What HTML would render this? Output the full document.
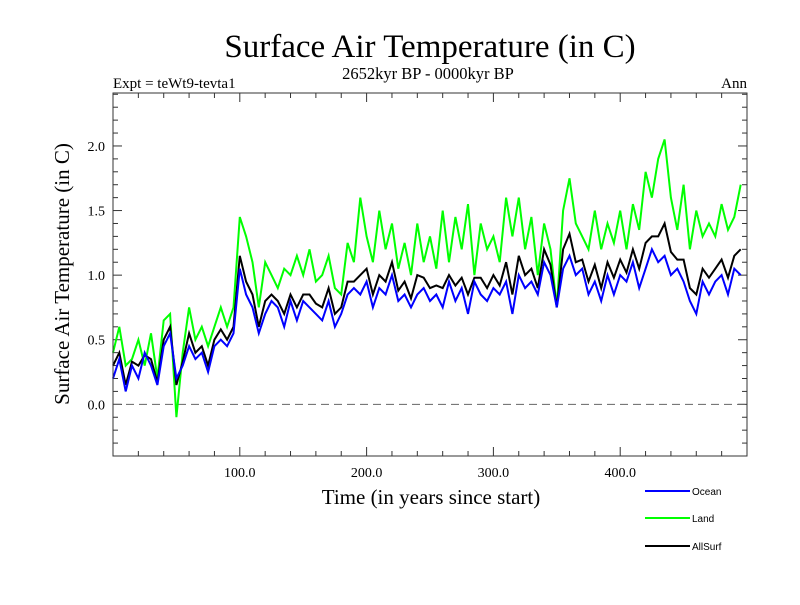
<!DOCTYPE html>
<html><head><meta charset="utf-8"><style>
body{margin:0;background:#fff;}
svg text{font-family:"Liberation Serif",serif;}
</style></head><body>
<svg id="c" width="800" height="600" xmlns="http://www.w3.org/2000/svg">
<text x="430" y="57" font-size="33" text-anchor="middle">Surface Air Temperature (in C)</text>
<text x="428" y="79" font-size="16.5" text-anchor="middle">2652kyr BP - 0000kyr BP</text>
<text x="113" y="88" font-size="15">Expt = teWt9-tevta1</text>
<text x="747" y="88" font-size="15" text-anchor="end">Ann</text>
<text transform="translate(69,274) rotate(-90)" font-size="21" text-anchor="middle">Surface Air Temperature (in C)</text>
<text x="431" y="504" font-size="21" text-anchor="middle">Time (in years since start)</text>
<g id="ticks"></g><g id="series"></g>
<rect x="113" y="93" width="634" height="363" fill="none" stroke="#333" stroke-width="1"/>
<g font-size="10">
<line x1="645" y1="491" x2="690" y2="491" stroke="#0000ff" stroke-width="2"/>
<text x="692" y="495" style="font-family:'Liberation Sans',sans-serif" font-size="10">Ocean</text>
<line x1="645" y1="518" x2="690" y2="518" stroke="#00ff00" stroke-width="2"/>
<text x="692" y="522" style="font-family:'Liberation Sans',sans-serif" font-size="10">Land</text>
<line x1="645" y1="546" x2="690" y2="546" stroke="#000" stroke-width="2"/>
<text x="692" y="550" style="font-family:'Liberation Sans',sans-serif" font-size="10">AllSurf</text>
</g>
</svg>
<script>
const years=[0,5,10,15,20,25,30,35,40,45,50,55,60,65,70,75,80,85,90,95,100,105,110,115,120,125,130,135,140,145,150,155,160,165,170,175,180,185,190,195,200,205,210,215,220,225,230,235,240,245,250,255,260,265,270,275,280,285,290,295,300,305,310,315,320,325,330,335,340,345,350,355,360,365,370,375,380,385,390,395,400,405,410,415,420,425,430,435,440,445,450,455,460,465,470,475,480,485,490,495];
const ocean=[0.2,0.35,0.1,0.3,0.2,0.4,0.3,0.15,0.45,0.55,0.2,0.3,0.45,0.35,0.4,0.25,0.45,0.5,0.45,0.55,1.05,0.85,0.75,0.55,0.7,0.8,0.75,0.6,0.8,0.65,0.8,0.75,0.7,0.65,0.8,0.6,0.7,0.85,0.9,0.85,0.95,0.75,0.9,0.85,1.0,0.8,0.85,0.75,0.85,0.9,0.8,0.85,0.75,0.95,0.8,0.9,0.7,0.95,0.85,0.8,0.9,0.85,0.95,0.7,1.0,0.9,0.95,0.85,1.1,1.0,0.75,1.05,1.15,1.0,1.05,0.85,0.95,0.8,1.0,0.85,1.0,0.95,1.1,0.9,1.05,1.2,1.1,1.15,1.0,1.05,0.95,0.8,0.7,0.95,0.85,0.95,1.0,0.85,1.05,1.0];
const land=[0.4,0.6,0.3,0.35,0.5,0.3,0.55,0.2,0.65,0.7,-0.1,0.4,0.75,0.5,0.6,0.45,0.6,0.75,0.6,0.75,1.45,1.3,1.1,0.75,1.1,1.0,0.9,1.05,1.0,1.15,1.0,1.2,0.95,1.0,1.15,0.9,0.85,1.25,1.1,1.6,1.3,1.1,1.5,1.2,1.4,1.05,1.25,1.0,1.4,1.1,1.3,1.05,1.5,1.1,1.45,1.2,1.55,1.0,1.4,1.2,1.3,1.1,1.6,1.3,1.6,1.2,1.45,1.0,1.4,1.2,0.75,1.5,1.75,1.4,1.3,1.2,1.5,1.2,1.4,1.25,1.5,1.2,1.55,1.35,1.8,1.6,1.9,2.05,1.6,1.35,1.7,1.2,1.5,1.3,1.4,1.3,1.55,1.35,1.45,1.7];
const allsurf=[0.3,0.4,0.15,0.33,0.3,0.38,0.35,0.17,0.5,0.6,0.15,0.33,0.55,0.4,0.45,0.3,0.5,0.58,0.5,0.6,1.15,0.95,0.85,0.6,0.8,0.85,0.8,0.7,0.85,0.75,0.85,0.85,0.78,0.75,0.9,0.7,0.75,0.95,0.95,1.0,1.05,0.85,1.0,0.95,1.1,0.88,0.95,0.82,1.0,0.98,0.9,0.92,0.9,1.0,0.92,0.98,0.85,0.98,0.98,0.9,1.0,0.92,1.1,0.85,1.15,1.0,1.05,0.9,1.2,1.08,0.75,1.2,1.32,1.1,1.12,0.95,1.08,0.9,1.1,0.98,1.12,1.02,1.2,1.05,1.25,1.3,1.3,1.4,1.18,1.12,1.12,0.9,0.85,1.05,0.98,1.05,1.12,0.98,1.15,1.2];
const xTickLabels=["100.0","200.0","300.0","400.0"];
const yTickLabels=["0.0","0.5","1.0","1.5","2.0"];
const X0=113,X1=747,Y0=93,Y1=456,XMIN=0,XMAX=500,YMIN=-0.4,YMAX=2.41;
const xs=v=>X0+(v-XMIN)/(XMAX-XMIN)*(X1-X0);
const ys=v=>Y1-(v-YMIN)/(YMAX-YMIN)*(Y1-Y0);
const NS="http://www.w3.org/2000/svg";
const tg=document.getElementById('ticks'),sg=document.getElementById('series');
function mk(tag,at,parent){const e=document.createElementNS(NS,tag);for(const k in at)e.setAttribute(k,at[k]);parent.appendChild(e);return e;}
for(let v=20;v<500;v+=20){const x=xs(v);const major=v%100===0;const L=major?9:5;
 let t=mk('line',{x1:x,y1:Y1,x2:x,y2:Y1-L,stroke:'#333'},tg);
 
 
 let t2=mk('line',{x1:x,y1:Y0,x2:x,y2:Y0+L,stroke:'#333'},tg);
 
 }
xTickLabels.forEach(s=>{const v=parseFloat(s);const e=mk('text',{x:xs(v),y:477,'font-size':14,'text-anchor':'middle'},tg);e.textContent=s;
 
 });
for(let i=-3;i<=24;i++){const v=i/10;const y=ys(v);const major=i%5===0;const L=major?9:5;
 let t=mk('line',{x1:X0,y1:y,x2:X0+L,y2:y,stroke:'#333'},tg);
 
 
 let t2=mk('line',{x1:X1,y1:y,x2:X1-L,y2:y,stroke:'#333'},tg);
 
 }
yTickLabels.forEach(s=>{const v=parseFloat(s);const e=mk('text',{x:X0-8,y:ys(v)+5,'font-size':14,'text-anchor':'end'},tg);e.textContent=s;
 
 });
const z=mk('line',{x1:X0,y1:ys(0),x2:X1,y2:ys(0),stroke:'#666','stroke-dasharray':'8,5'},sg);


function series(arr,col,name){const d=arr.map((v,i)=>(i?'L':'M')+xs(years[i]).toFixed(1)+','+ys(v).toFixed(1)).join('');
 const p=mk('path',{d:d,fill:'none',stroke:col,'stroke-width':2},sg);
 
 }
series(land,'#00ff00','land-line');
series(allsurf,'#000000','allsurf-line');
series(ocean,'#0000ff','ocean-line');
</script>
</body></html>
